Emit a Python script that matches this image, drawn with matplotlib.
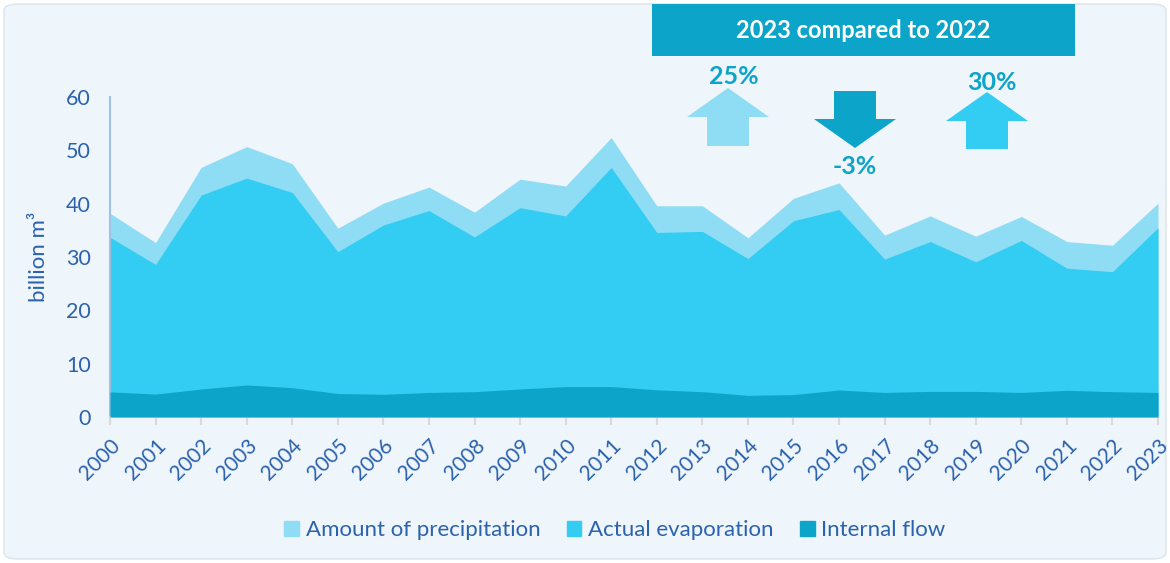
import matplotlib.pyplot as plt
from matplotlib.patches import Patch, Polygon, FancyBboxPatch, Rectangle

# yearly water balance, billion m3
years = [str(y) for y in range(2000, 2024)]
precipitation = [38.2, 32.7, 46.8, 50.7, 47.5, 35.4, 40.1, 43.1, 38.4, 44.6, 43.3, 52.4,
                 39.6, 39.6, 33.6, 41.0, 43.9, 34.1, 37.7, 33.9, 37.6, 32.9, 32.2, 40.1]
evaporation = [33.7, 28.6, 41.6, 44.8, 42.1, 31.0, 36.0, 38.7, 33.75, 39.25, 37.7, 46.8,
               34.6, 34.8, 29.7, 36.8, 38.9, 29.6, 32.9, 29.1, 33.1, 27.9, 27.25, 35.5]
internal_flow = [4.7, 4.3, 5.25, 6.0, 5.5, 4.4, 4.25, 4.6, 4.75, 5.25, 5.7, 5.7,
                 5.1, 4.75, 4.06, 4.2, 5.06, 4.6, 4.8, 4.8, 4.6, 5.0, 4.75, 4.6]
series_names = ['Amount of precipitation', 'Actual evaporation', 'Internal flow']
change_labels = ['25%', '-3%', '30%']

c_prec = '#8EDDF5'
c_evap = '#33CCF2'
c_flow = '#0CA4C8'
c_text = '#2B62AE'
bg = '#EEF5FB'

plt.rcParams['font.family'] = ['Lato', 'DejaVu Sans']

W, H = 1170, 563
fig = plt.figure(figsize=(W / 100, H / 100), dpi=100)
fig.patch.set_facecolor('white')


def fx(px):
    return px / W


def fy(py):
    return 1 - py / H


# rounded panel behind everything
panel = FancyBboxPatch((fx(4), fy(559)), fx(1162), 555 / H,
                       boxstyle='round,pad=0,rounding_size=0.012',
                       transform=fig.transFigure, facecolor=bg,
                       edgecolor='#DCE3EA', linewidth=1.0, zorder=-5)
fig.patches.append(panel)

ax = fig.add_axes([fx(110), fy(417), fx(1158) - fx(110), (417 - 97) / H])
ax.set_facecolor('none')
ax.set_zorder(1)

x = list(range(len(years)))
ax.fill_between(x, 0, precipitation, color=c_prec, linewidth=0, zorder=1)
ax.fill_between(x, 0, evaporation, color=c_evap, linewidth=0, zorder=2)
ax.fill_between(x, 0, internal_flow, color=c_flow, linewidth=0, zorder=3)

ax.set_xlim(0, len(years) - 1)
ax.set_ylim(0, 60)
ax.set_yticks(range(0, 61, 10))
ax.set_xticks(x)
ax.set_xticklabels(years, rotation=45, ha='right', rotation_mode='anchor')

for s in ['top', 'right']:
    ax.spines[s].set_visible(False)
ax.spines['left'].set_color('#9DC3E6')
ax.spines['left'].set_linewidth(1.5)
ax.spines['bottom'].set_color('#D9D9D9')
ax.spines['bottom'].set_linewidth(1.5)
ax.tick_params(axis='y', length=0, pad=14, labelsize=15.5, labelcolor=c_text)
ax.tick_params(axis='x', length=6, width=1.5, color='#D9D9D9', pad=7,
               labelsize=15, labelcolor=c_text)
ax.set_ylabel('billion m³', fontsize=16, color=c_text, labelpad=12)

handles = [Patch(color=c_prec), Patch(color=c_evap), Patch(color=c_flow)]
fig.legend(handles, series_names, loc='center', bbox_to_anchor=(fx(615), fy(530)),
           ncol=3, frameon=False, fontsize=16, labelcolor=c_text,
           handlelength=0.65, handleheight=0.65, handletextpad=0.3, columnspacing=1.2)

# header box
fig.patches.append(Rectangle((fx(652), fy(56)), fx(1075) - fx(652), 52 / H,
                             transform=fig.transFigure, facecolor=c_flow,
                             edgecolor='none', zorder=5))
fig.text(fx(863), fy(31), '2023 compared to 2022', ha='center', va='center',
         color='white', fontsize=17, fontweight='bold', zorder=6)


def up_arrow(cx, tip, base, bottom, head_w, shaft_w, color):
    pts = [(cx, tip), (cx + head_w / 2, base), (cx + shaft_w / 2, base),
           (cx + shaft_w / 2, bottom), (cx - shaft_w / 2, bottom),
           (cx - shaft_w / 2, base), (cx - head_w / 2, base)]
    fig.patches.append(Polygon([(fx(a), fy(b)) for a, b in pts], closed=True,
                               transform=fig.transFigure, facecolor=color,
                               edgecolor='none', zorder=5))


up_arrow(728, 88, 117, 146, 82, 42, c_prec)
up_arrow(855, 148, 119, 91, 82, 42, c_flow)
up_arrow(987, 92, 121, 149, 82, 42, c_evap)

fig.text(fx(734), fy(77), change_labels[0], ha='center', va='center',
         color=c_flow, fontsize=18, fontweight='bold')
fig.text(fx(855), fy(166), change_labels[1], ha='center', va='center',
         color=c_flow, fontsize=18, fontweight='bold')
fig.text(fx(992), fy(83), change_labels[2], ha='center', va='center',
         color=c_flow, fontsize=18, fontweight='bold')

fig.savefig('out.png', dpi=100, facecolor=fig.get_facecolor())
